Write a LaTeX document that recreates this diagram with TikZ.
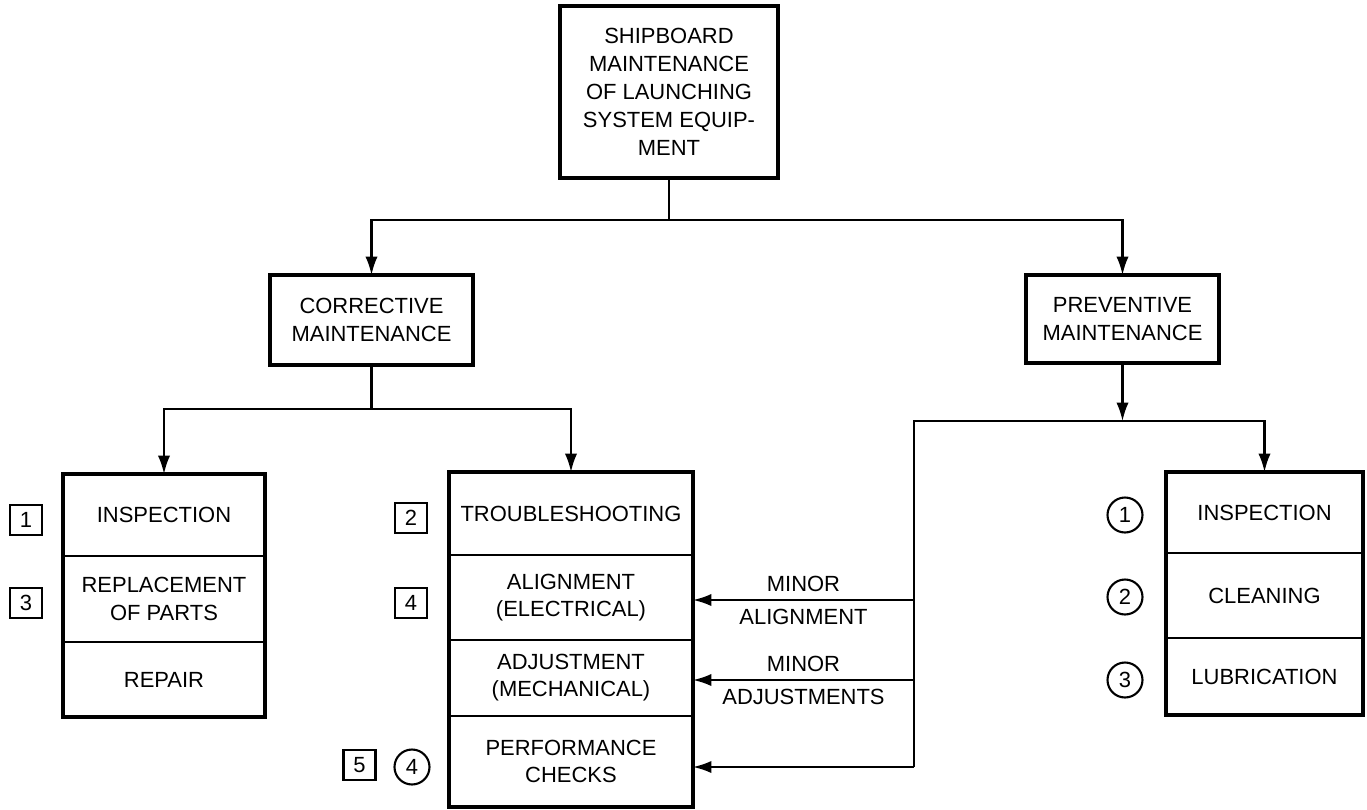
\documentclass[tikz,border=0pt]{standalone}
\usepackage{fontspec}
\setmainfont{Liberation Sans}
\usepackage{tikz}
\usetikzlibrary{arrows.meta}
\usetikzlibrary{shapes,positioning}
\tikzset{maint-box/.style={draw,line width=1.9pt,align=center,inner sep=0pt,outer sep=0pt,font=\fontsize{12.5pt}{16pt}\selectfont}}
\tikzset{task-cell/.style={draw,line width=1.3pt,align=center,inner sep=0pt,outer sep=0pt,font=\fontsize{12.5pt}{15.5pt}\selectfont}}
\tikzset{num-square/.style={draw,line width=1.3pt,minimum width=0.64cm,minimum height=0.6cm,inner sep=0pt,font=\fontsize{12.5pt}{14pt}\selectfont}}
\tikzset{num-circle/.style={draw,circle,line width=1.2pt,minimum size=0.7cm,inner sep=0pt,font=\fontsize{12.5pt}{14pt}\selectfont}}
\tikzset{flow-line/.style={line width=1.2pt}}
\tikzset{flow-label/.style={font=\fontsize{12.5pt}{14pt}\selectfont}}
\tikzset{>={Latex[length=10.5pt,width=7pt]}}

\begin{document}
\begin{tikzpicture}[x=0.02cm,y=-0.02cm]
            \useasboundingbox (0,0) rectangle (1367,809);

            % upper levels
            \node [maint-box,minimum width=4.36cm,minimum height=3.44cm] (top) at (669,92)
                {SHIPBOARD\\MAINTENANCE\\OF LAUNCHING\\SYSTEM EQUIP-\\MENT};
            \node [maint-box,minimum width=4.06cm,minimum height=1.8cm] (corr) at (371.5,320)
                {CORRECTIVE\\MAINTENANCE};
            \node [maint-box,minimum width=3.86cm,minimum height=1.76cm] (prev) at (1122.5,319)
                {PREVENTIVE\\MAINTENANCE};

            % corrective tasks, left column
            \node [task-cell,minimum width=4.04cm,minimum height=1.64cm] (lt1) at (164,515) {INSPECTION};
            \node [task-cell,minimum width=4.04cm,minimum height=1.72cm,below=0pt of lt1] (lt2) {REPLACEMENT\\OF PARTS};
            \node [task-cell,minimum width=4.04cm,minimum height=1.5cm,below=0pt of lt2] (lt3) {REPAIR};
            \draw [line width=1.9pt] (lt1.north west) rectangle (lt3.south east);

            % corrective tasks, middle column
            \node [task-cell,minimum width=4.88cm,minimum height=1.66cm] (mt1) at (571,513.5) {TROUBLESHOOTING};
            \node [task-cell,minimum width=4.88cm,minimum height=1.7cm,below=0pt of mt1] (mt2) {ALIGNMENT\\(ELECTRICAL)};
            \node [task-cell,minimum width=4.88cm,minimum height=1.52cm,below=0pt of mt2] (mt3) {ADJUSTMENT\\(MECHANICAL)};
            \node [task-cell,minimum width=4.88cm,minimum height=1.82cm,below=0pt of mt3] (mt4) {PERFORMANCE\\CHECKS};
            \draw [line width=1.9pt] (mt1.north west) rectangle (mt4.south east);

            % preventive tasks
            \node [task-cell,minimum width=3.94cm,minimum height=1.62cm] (rt1) at (1264.5,512.5) {INSPECTION};
            \node [task-cell,minimum width=3.94cm,minimum height=1.7cm,below=0pt of rt1] (rt2) {CLEANING};
            \node [task-cell,minimum width=3.94cm,minimum height=1.54cm,below=0pt of rt2] (rt3) {LUBRICATION};
            \draw [line width=1.9pt] (rt1.north west) rectangle (rt3.south east);

            % sequence numbers
            \node [num-square] (sq1) at (26,520) {1};
            \node [num-square] (sq3) at (26,603) {3};
            \node [num-square] (sq2) at (411,518) {2};
            \node [num-square] (sq4) at (411,603) {4};
            \node [num-square] (sq5) at (359.5,765) {5};
            \node [num-circle] (ci4) at (412,767) {4};
            \node [num-circle] (ci1) at (1125,515) {1};
            \node [num-circle] (ci2) at (1125,597) {2};
            \node [num-circle] (ci3) at (1125,680) {3};

            % connectors
            \coordinate (split-top) at (669,220);
            \draw [flow-line] (top.south) -- (split-top);
            \draw [flow-line,->] (split-top) -| (corr.north);
            \draw [flow-line,->] (split-top) -| (prev.north);

            \coordinate (split-corr) at (371.5,409);
            \draw [flow-line] (corr.south) -- (split-corr);
            \draw [flow-line,->] (split-corr) -| (lt1.north);
            \draw [flow-line,->] (split-corr) -| (mt1.north);

            \coordinate (split-prev) at (1122.5,421);
            \coordinate (feed-top) at (914,421);
            \coordinate (feed-align) at (914,600);
            \coordinate (feed-adjust) at (914,680);
            \coordinate (feed-perf) at (914,767);
            \draw [flow-line,->] (prev.south) -- (split-prev);
            \draw [flow-line,->] (split-prev) -| (rt1.north);
            \draw [flow-line] (split-prev) -- (feed-top) -- (feed-perf);
            \draw [flow-line,->] (feed-align) -- (feed-align -| mt2.east)
                node [midway,above=1pt,flow-label] (lbl-minor1) {MINOR}
                node [midway,below=1pt,flow-label] (lbl-align) {ALIGNMENT};
            \draw [flow-line,->] (feed-adjust) -- (feed-adjust -| mt3.east)
                node [midway,above=1pt,flow-label] (lbl-minor2) {MINOR}
                node [midway,below=1pt,flow-label] (lbl-adjust) {ADJUSTMENTS};
            \draw [flow-line,->] (feed-perf) -- (feed-perf -| mt4.east);
        \end{tikzpicture}
\end{document}
